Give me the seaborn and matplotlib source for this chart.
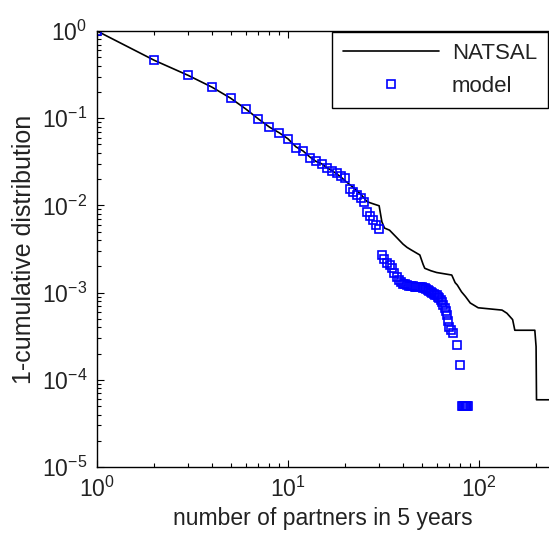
import numpy as np
import pandas as pd
import matplotlib
matplotlib.use("Agg")
import matplotlib.pyplot as plt
import seaborn as sns
from matplotlib.ticker import LogLocator, NullFormatter

# Survey: 1 - CDF of number of partners in 5 years (NATSAL)
natsal_partners = [1, 2, 3, 4, 5, 6, 7, 8, 9, 10, 11, 12, 13, 14, 15, 16, 17, 18, 19, 20,
                   22, 24, 26, 28, 30, 31, 32, 34, 37, 40, 42, 44, 49, 51, 52, 56, 60, 72,
                   75, 77, 81, 85, 90, 99, 132, 140, 150, 154, 196, 199, 200, 240]
natsal_ccdf = [1.0, 0.46, 0.31, 0.227, 0.17, 0.128, 0.098, 0.079, 0.068, 0.058, 0.047, 0.042,
               0.036, 0.032, 0.030, 0.027, 0.025, 0.023, 0.021, 0.019,
               0.016, 0.0135, 0.011, 0.0104, 0.0099, 0.0065, 0.0055, 0.0052, 0.0043, 0.0036,
               0.0033, 0.0031, 0.0027, 0.0021, 0.0019, 0.00178, 0.0017, 0.00159,
               0.0013, 0.00122, 0.00102, 0.0009, 0.00076, 0.00067, 0.00063, 0.00058, 0.00049,
               0.00037, 0.00037, 0.00024, 0.000059, 0.000059]

# Model: 1 - CDF at each observed partner count
model_partners = list(range(1, 72)) + [73, 77, 80, 81, 82, 83, 84, 85, 86, 87, 88]
model_ccdf = [1.0, 0.46, 0.315, 0.228, 0.17, 0.128, 0.098, 0.079, 0.068, 0.058,
              0.046, 0.042, 0.035, 0.032, 0.030, 0.027, 0.025, 0.0235, 0.022, 0.0205,
              0.0155, 0.0142, 0.013, 0.0122, 0.011, 0.0085, 0.0076, 0.0068, 0.006, 0.0053,
              0.0027, 0.0024, 0.0022, 0.0021, 0.0019, 0.0017, 0.0015, 0.0014, 0.00132, 0.00127,
              0.00124, 0.00122, 0.0012, 0.00119, 0.00118, 0.00117, 0.00116, 0.00116, 0.00115, 0.00115,
              0.00114, 0.00112, 0.00109, 0.00106, 0.00104, 0.00101, 0.00099, 0.00097, 0.00095, 0.00093,
              0.0009, 0.00087, 0.00083, 0.00079, 0.00073, 0.00067, 0.00061, 0.00055, 0.00047, 0.0004,
              0.00037, 0.00034, 0.00025, 0.000148,
              5e-5, 5e-5, 5e-5, 5e-5, 5e-5, 5e-5, 5e-5, 5e-5]

natsal = pd.DataFrame({"partners": natsal_partners, "ccdf": natsal_ccdf})
model = pd.DataFrame({"partners": model_partners, "ccdf": model_ccdf})

sns.set_style("ticks")
plt.rcParams["font.family"] = ["Liberation Sans", "DejaVu Sans"]
plt.rcParams["mathtext.default"] = "regular"
plt.rcParams["axes.unicode_minus"] = False

fig = plt.figure(figsize=(5.49, 5.39), dpi=100)
ax = fig.add_axes([97 / 549, 72 / 539, 452 / 549, 436 / 539])

sns.lineplot(data=natsal, x="partners", y="ccdf", ax=ax, color="black", lw=1.2,
             estimator=None, sort=False, label="NATSAL")
sns.lineplot(data=model, x="partners", y="ccdf", ax=ax, estimator=None, sort=False,
             linestyle="none", marker="s", markersize=5.6, markerfacecolor="none",
             markeredgecolor="#0000ff", markeredgewidth=1.2, color="#0000ff", label="model")

ax.set_xscale("log")
ax.set_yscale("log")
ax.set_xlim(1, 10 ** (452 / 191))
ax.set_ylim(1e-5, 1)

ax.xaxis.set_major_locator(LogLocator(base=10, numticks=10))
ax.yaxis.set_major_locator(LogLocator(base=10, numticks=10))
ax.xaxis.set_minor_locator(LogLocator(base=10, subs=np.arange(2, 10), numticks=20))
ax.yaxis.set_minor_locator(LogLocator(base=10, subs=np.arange(2, 10), numticks=20))
ax.xaxis.set_minor_formatter(NullFormatter())
ax.yaxis.set_minor_formatter(NullFormatter())

ax.tick_params(which="both", direction="in", top=True, right=False, colors="black",
               labelcolor="#222222", labelsize=16.5, width=0.8)
ax.tick_params(which="major", length=5, pad=7)
ax.tick_params(which="minor", length=3)

for side in ["left", "bottom", "top"]:
    ax.spines[side].set_color("black")
    ax.spines[side].set_linewidth(1.0)
ax.spines["right"].set_visible(False)

ax.set_xlabel("number of partners in 5 years", fontsize=16.5, labelpad=4, color="#222222")
ax.set_ylabel("1-cumulative distribution", fontsize=18, labelpad=4, color="#222222")

leg = ax.legend(loc="upper right", bbox_to_anchor=(0.998, 0.998), borderaxespad=0,
                fontsize=16, handlelength=4.3, handletextpad=0.6, labelspacing=0.55,
                borderpad=0.5, fancybox=False, framealpha=1, edgecolor="black")
leg.get_frame().set_linewidth(1.0)
for txt in leg.get_texts():
    txt.set_color("#222222")

fig.savefig("out.png", dpi=100, facecolor="white")
